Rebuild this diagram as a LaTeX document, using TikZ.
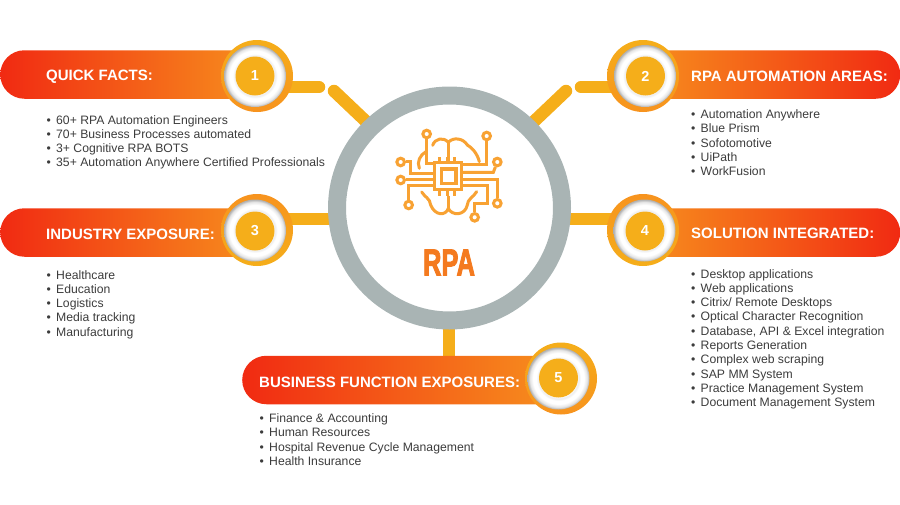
\documentclass[tikz,border=0pt]{standalone}
\usepackage{fontspec}
\setmainfont{Liberation Sans}
\newfontfamily\rpafont[BoldFeatures={FakeBold=3}]{Liberation Sans}
\usetikzlibrary{shapes.misc,backgrounds}
\definecolor{goldc}{HTML}{F5AE1A}
\definecolor{orangec}{HTML}{F7931E}
\definecolor{redc}{HTML}{F12A12}
\definecolor{hubc}{HTML}{A9B4B4}
\definecolor{iconc}{HTML}{F8A233}
\definecolor{rpac}{HTML}{F47A1F}
\definecolor{textc}{HTML}{3C3C3C}
\pgfdeclareradialshading{ringsh}{\pgfpoint{0bp}{0bp}}{
  color(0bp)=(white); color(15bp)=(white); color(16bp)=(black!8); color(18bp)=(white);
  color(20.5bp)=(white); color(23bp)=(black!10); color(25bp)=(black!32); color(50bp)=(black!32)}
\tikzset{
  pillleft/.style={rounded rectangle,inner sep=0pt,minimum height=48.5pt,left color=redc,right color=orangec,anchor=west},
  pillright/.style={rounded rectangle,inner sep=0pt,minimum height=48.5pt,left color=orangec,right color=redc,anchor=west},
  rimdown/.style={circle,inner sep=0pt,minimum size=72pt,top color=goldc,bottom color=orangec},
  rimup/.style={circle,inner sep=0pt,minimum size=72pt,top color=orangec,bottom color=goldc},
  whitering/.style={circle,inner sep=0pt,minimum size=62pt,shade,shading=ringsh},
  numdisc/.style={circle,inner sep=0pt,minimum size=39pt,fill=goldc,text=white,font=\bfseries\fontsize{14.5}{16}\selectfont},
  title/.style={inner sep=0pt,anchor=west,text=white,font=\bfseries\fontsize{15}{18}\selectfont},
  items/.style={inner sep=0pt,anchor=north west,align=left,text=textc,font=\fontsize{12.2}{14.3}\selectfont},
  link/.style={draw=goldc,line width=12.5pt},
  linkround/.style={draw=goldc,line width=12.5pt,line cap=round},
  hub/.style={circle,inner sep=0pt,minimum size=225pt,draw=hubc,line width=18pt,fill=white},
  trace/.style={draw=iconc,line width=3pt},
  pad/.style={circle,inner sep=0pt,minimum size=7.6pt,draw=iconc,line width=3pt,fill=white}
}
\newcommand{\itm}[1]{\makebox[9.5pt][l]{•}#1}
\begin{document}
\begin{tikzpicture}[x=1pt,y=-1pt]
\useasboundingbox (0,0) rectangle (900,504);
% hub
\node[hub] (hub) at (449.5,208) {};
\node[inner sep=0pt,text=rpac,xscale=0.68,font=\rpafont\bfseries\fontsize{37.5}{40}\selectfont] (rpa) at (449,262.5) {RPA};
% pills
\node[pillleft,minimum width=270pt] (p1) at (0,74.5) {};
\node[pillright,minimum width=270pt] (p2) at (630,74.5) {};
\node[pillleft,minimum width=270pt] (p3) at (0,232.5) {};
\node[pillright,minimum width=270pt] (p4) at (630,232.5) {};
\node[pillleft,minimum width=328pt] (p5) at (242,380) {};
% badges
\node[rimdown] (r1) at (257,76) {};
\node[rimdown] (r2) at (643,76) {};
\node[rimup] (r3) at (257,230) {};
\node[rimup] (r4) at (643,230) {};
\node[rimdown] (r5) at (561,378.5) {};
\node[whitering] (w1) at (255,76) {};
\node[whitering] (w2) at (645,76) {};
\node[whitering] (w3) at (255,230.5) {};
\node[whitering] (w4) at (644.5,230.5) {};
\node[whitering] (w5) at (558.5,378.5) {};
\node[numdisc] (c1) at (255,76) {1};
\node[numdisc] (c2) at (645.5,76) {2};
\node[numdisc] (c3) at (255,231) {3};
\node[numdisc] (c4) at (645,231) {4};
\node[numdisc] (c5) at (558.5,378) {5};
% titles
\node[title] (t1) at (46,76.5) {QUICK FACTS:};
\node[title] (t2) at (691,76.5) {RPA AUTOMATION AREAS:};
\node[title] (t3) at (46,234) {INDUSTRY EXPOSURE:};
\node[title] (t4) at (691,233) {SOLUTION INTEGRATED:};
\node[title] (t5) at (259,382) {BUSINESS FUNCTION EXPOSURES:};
% lists
\node[items] (l1) at (46.5,115) {\itm{60+ RPA Automation Engineers}\\\itm{70+ Business Processes automated}\\\itm{3+ Cognitive RPA BOTS}\\\itm{35+ Automation Anywhere Certified Professionals}};
\node[items] (l2) at (691,109.5) {\itm{Automation Anywhere}\\\itm{Blue Prism}\\\itm{Sofotomotive}\\\itm{UiPath}\\\itm{WorkFusion}};
\node[items] (l3) at (46.5,270) {\itm{Healthcare}\\\itm{Education}\\\itm{Logistics}\\\itm{Media tracking}\\\itm{Manufacturing}};
\node[items] (l4) at (691,269) {\itm{Desktop applications}\\\itm{Web applications}\\\itm{Citrix/ Remote Desktops}\\\itm{Optical Character Recognition}\\\itm{Database, API \& Excel integration}\\\itm{Reports Generation}\\\itm{Complex web scraping}\\\itm{SAP MM System}\\\itm{Practice Management System}\\\itm{Document Management System}};
\node[items] (l5) at (259.5,413.5) {\itm{Finance \& Accounting}\\\itm{Human Resources}\\\itm{Hospital Revenue Cycle Management}\\\itm{Health Insurance}};
% connector ends
\coordinate (a1) at (270,87);
\coordinate (b1) at (319,87);
\coordinate (d1) at (334,91);
\coordinate (e1) at (374,129);
\coordinate (a2) at (630,87);
\coordinate (b2) at (581,87);
\coordinate (d2) at (566,91);
\coordinate (e2) at (526,129);
\coordinate (a3) at (270,219);
\coordinate (b3) at (340,219);
\coordinate (a4) at (630,219);
\coordinate (b4) at (560,219);
\coordinate (a5) at (449,320);
\coordinate (b5) at (449,360);
\begin{pgfonlayer}{background}
\draw[linkround] (a1) -- (b1);
\draw[linkround] (d1) -- (e1);
\draw[linkround] (a2) -- (b2);
\draw[linkround] (d2) -- (e2);
\draw[link] (a3) -- (b3);
\draw[link] (a4) -- (b4);
\draw[link] (a5) -- (b5);
\end{pgfonlayer}
% icon
\begin{scope}[shift={(360,110)},x=0.3333pt,y=-0.3333pt]
\draw[trace,line cap=round,line join=round] (178,175) .. controls (170,155) and (180,135) .. (198,125);
\draw[trace,line cap=round,line join=round] (218,106) .. controls (225,85) and (250,80) .. (265,97) .. controls (280,80) and (310,85) .. (322,105) .. controls (335,112) and (352,130) .. (358,155);
\draw[trace] (265,97) -- (265,155);
\draw[trace,line cap=round,line join=round] (185,246) .. controls (195,262) and (210,265) .. (212,285) .. controls (225,318) and (258,318) .. (265,295) .. controls (275,318) and (315,318) .. (322,285) .. controls (322,268) and (340,262) .. (350,245);
\draw[trace] (265,258) -- (265,295);
\draw[trace,fill=white] (225,157) rectangle (305,240);
\draw[trace,line width=3.4pt] (244,177) rectangle (288,221);
\foreach \px in {240,262,285}{
  \draw[trace] (\px,157) -- (\px,141);
  \draw[trace] (\px,240) -- (\px,258);
}
\node[pad] (i1) at (200,72) {};
\node[pad] (i2) at (380,78) {};
\node[pad] (i3) at (122,156) {};
\node[pad] (i4) at (412,156) {};
\node[pad] (i5) at (122,210) {};
\node[pad] (i6) at (412,280) {};
\node[pad] (i7) at (146,285) {};
\node[pad] (i8) at (344,322) {};
\draw[trace] (i1) -- (200,160) -- (225,160);
\draw[trace] (i2) -- (380,165) -- (305,165);
\draw[trace] (i3) -- (152,156) -- (152,190) -- (225,190);
\draw[trace] (i5) -- (225,210);
\draw[trace] (i7) -- (146,226) -- (225,226);
\draw[trace] (i4) -- (400,187) -- (305,187);
\draw[trace] (i6) -- (412,208) -- (305,208);
\draw[trace] (i8) -- (344,280) -- (384,280) -- (384,226) -- (305,226);
\end{scope}
\end{tikzpicture}
\end{document}
